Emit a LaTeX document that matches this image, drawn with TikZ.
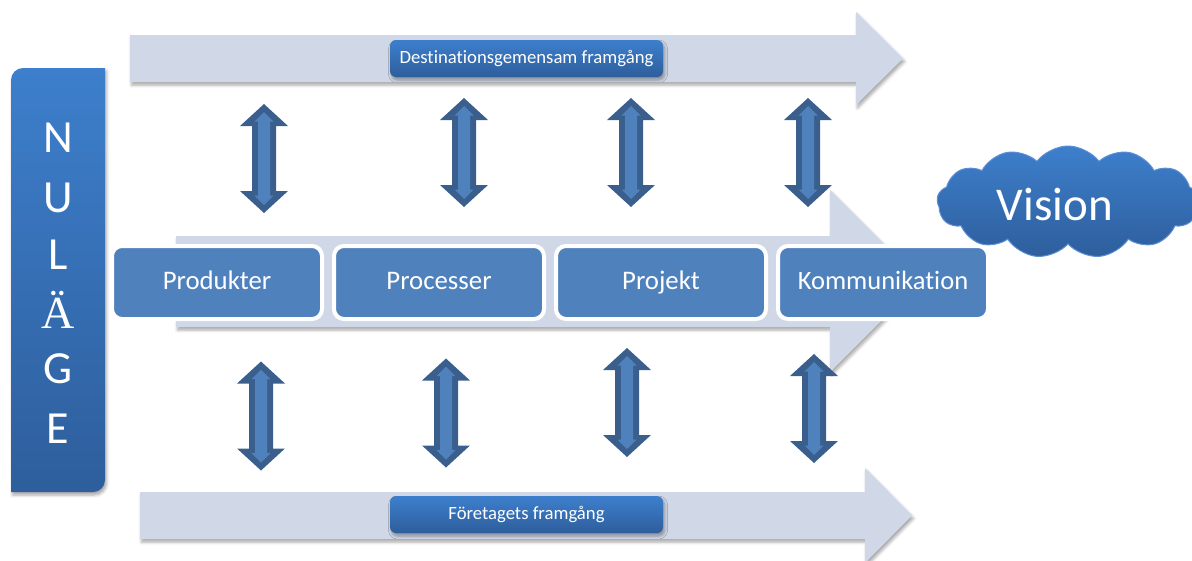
\documentclass[tikz,border=0pt]{standalone}
\usepackage{fontspec}
\setmainfont{Carlito}[Ligatures=NoCommon]
\newfontfamily\serifae{Liberation Serif}
\usetikzlibrary{shapes.symbols,shadows.blur}

\definecolor{bandfill}{HTML}{D0D8E8}
\definecolor{boxblue}{HTML}{4F81BD}
\definecolor{darkblue}{HTML}{3A5F8D}
\definecolor{gradtop}{HTML}{3D7FCC}
\definecolor{gradbot}{HTML}{2E5E9C}
\definecolor{cloudrim}{HTML}{5E8FD3}

\tikzset{
  softshadow/.style={blur shadow={shadow xshift=1.5pt, shadow yshift=-3pt,
      shadow blur radius=3pt, shadow opacity=35}},
  band/.style={fill=bandfill, softshadow},
  tag/.style={rounded corners=6pt, top color=gradtop, bottom color=gradbot,
      text=white, font=\fontsize{18.7}{22}\selectfont, minimum width=273pt,
      minimum height=37pt, inner sep=0pt, text height=13pt, text depth=4pt,
      softshadow},
  stage/.style={rounded corners=10pt, fill=boxblue, draw=white, line width=4pt,
      minimum width=210pt, minimum height=73pt, inner sep=0pt, text=white,
      text height=18pt, text depth=5pt,
      font=\fontsize{26.8}{30}\selectfont},
  letter/.style={text=white, anchor=base, inner sep=0pt,
      font=\fontsize{46}{50}\selectfont},
  twoway/.pic={
    \fill[darkblue] (0,-54.5) -- (24,-32.5) -- (12,-32.5) -- (12,32.5)
      -- (24,32.5) -- (0,54.5) -- (-24,32.5) -- (-12,32.5) -- (-12,-32.5)
      -- (-24,-32.5) -- cycle;
    \fill[boxblue] (0,-46.5) -- (9.5,-37) -- (6,-37) -- (6,37) -- (9.5,37)
      -- (0,46.5) -- (-9.5,37) -- (-6,37) -- (-6,-37) -- (-9.5,-37) -- cycle;
  }
}

\begin{document}
\begin{tikzpicture}[x=1pt, y=-1pt]
\useasboundingbox (0,0) rectangle (1192,560);

% three broad light arrows
\path[band] (130,35) -- (856,35) -- (856,12) -- (903,58.5) -- (856,105)
  -- (856,82) -- (130,82) -- cycle;
\path[band] (176,236) -- (830,236) -- (830,190) -- (921,281) -- (830,372)
  -- (830,327) -- (176,327) -- cycle;
\path[band] (140,492) -- (865,492) -- (865,468) -- (912,515.5) -- (865,563)
  -- (865,539) -- (140,539) -- cycle;

% labels on the outer arrows
\node[tag] (dest) at (526.5,58.5) {Destinationsgemensam framgång};
\node[tag] (foret) at (526.5,514.5) {Företagets framgång};

% the four stages
\node[stage] (prod) at (217,282.5) {Produkter};
\node[stage] (proc) at (439,282.5) {Processer};
\node[stage] (proj) at (661,282.5) {Projekt};
\node[stage, font=\fontsize{26.5}{30}\selectfont] (komm) at (883,282.5) {Kommunikation};

% goal cloud
\node[cloud, cloud puffs=13, cloud puff arc=105, aspect=2.5,
  minimum width=262pt, minimum height=112pt,
  top color=gradtop, bottom color=gradbot, draw=cloudrim, line width=1pt]
  (cloud) at (1068,202) {};
\node[text=white, font=\fontsize{47}{50}\selectfont, inner sep=0pt] (vision)
  at (1055,204) {Vision};

% two-way arrows between the stages and the outer arrows
\pic (u1) at (264,158.5) {twoway};
\pic (u2) at (464,152.5) {twoway};
\pic (u3) at (631,152.5) {twoway};
\pic (u4) at (808,152.5) {twoway};
\pic (d1) at (261,416) {twoway};
\pic (d2) at (446,413) {twoway};
\pic (d3) at (627,402.5) {twoway};
\pic (d4) at (814,408.5) {twoway};

% starting point column
\shade[top color=gradtop, bottom color=gradbot, softshadow]
  (11,492) -- (11,80) arc[start angle=180, end angle=270, radius=12]
  -- (105,68) -- (105,480) arc[start angle=0, end angle=90, radius=12]
  -- cycle;
\node[letter] (n) at (58,152) {N};
\node[letter] (u) at (58,212) {U};
\node[letter] (l) at (58,269) {L};
\node[letter, font=\fontsize{46}{50}\selectfont\serifae] (ae) at (58,328) {Ä};
\node[letter] (g) at (58,383) {G};
\node[letter] (e) at (58,443) {E};
\end{tikzpicture}
\end{document}
